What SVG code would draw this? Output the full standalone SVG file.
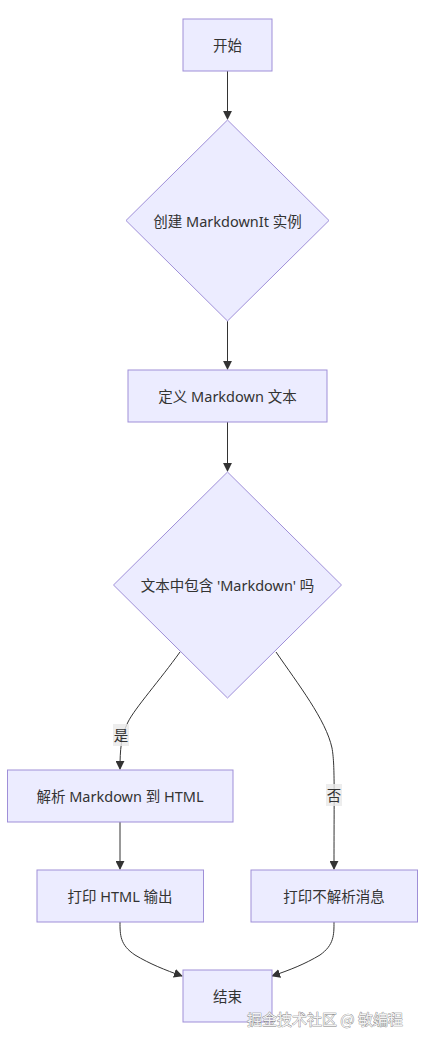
<svg xmlns="http://www.w3.org/2000/svg" width="425" height="1042" viewBox="0 0 425 1042">
<defs>
<marker id="arr" viewBox="0 0 10 10" refX="9" refY="5" markerWidth="9" markerHeight="9" markerUnits="userSpaceOnUse" orient="auto">
<path d="M0,0 L10,5 L0,10 z" fill="#333"/>
</marker>
<style>
.n{fill:#ECECFF;stroke:#9f8fd8;stroke-width:1}
.t{font-family:"Noto Sans","Noto Sans CJK SC",sans-serif;font-size:14.5px;fill:#333;text-anchor:middle;dominant-baseline:central}
.e{fill:none;stroke:#333;stroke-width:1}
.lb{fill:#e8e8e8;opacity:0.8}
.wm{font-family:"Noto Sans CJK SC",sans-serif;font-size:15px;fill:#f2f2f2;stroke:#7a7a7a;stroke-width:0.7;paint-order:stroke;text-anchor:start;dominant-baseline:central}
</style>
</defs>
<rect width="425" height="1042" fill="#fff"/>
<g id="connectors">
<path class="e" d="M227.5,71 L227.5,119" marker-end="url(#arr)"/>
<path class="e" d="M227.5,321 L227.5,369" marker-end="url(#arr)"/>
<path class="e" d="M227.5,422 L227.5,471" marker-end="url(#arr)"/>
<path class="e" d="M180,652 C160,680 135,708 128,722 C121,736 120,750 120,769" marker-end="url(#arr)"/>
<path class="e" d="M276,652 C298,684 326,720 332,748 C335,765 334,790 334,869" marker-end="url(#arr)"/>
<path class="e" d="M120,822 L120,869" marker-end="url(#arr)"/>
<path class="e" d="M120,922 C120,935 120,945 135,955 C150,964 165,970 182,976" marker-end="url(#arr)"/>
<path class="e" d="M334,922 C334,935 334,945 320,955 C305,964 290,970 272,976" marker-end="url(#arr)"/>
<rect class="lb" x="113" y="724" width="16" height="22"/>
<text class="t" x="121" y="735">是</text>
<rect class="lb" x="326" y="784" width="16" height="22"/>
<text class="t" x="334" y="795">否</text>
</g>
<g id="start">
<rect class="n" x="183" y="19" width="89" height="52"/>
<text class="t" x="227.5" y="45">开始</text>
</g>
<g id="create">
<polygon class="n" points="227.5,120 329,220.5 227.5,321 126,220.5"/>
<text class="t" x="227.5" y="220.5">创建 MarkdownIt 实例</text>
</g>
<g id="define">
<rect class="n" x="128" y="370" width="199" height="52"/>
<text class="t" x="227.5" y="396">定义 Markdown 文本</text>
</g>
<g id="check">
<polygon class="n" points="227.5,472 341.5,585 227.5,698 113.5,585"/>
<text class="t" x="227.5" y="585">文本中包含 'Markdown' 吗</text>
</g>
<g id="parse">
<rect class="n" x="7.5" y="770" width="225.5" height="52"/>
<text class="t" x="120" y="796">解析 Markdown 到 HTML</text>
</g>
<g id="printHtml">
<rect class="n" x="37" y="870" width="166.5" height="52"/>
<text class="t" x="120" y="896">打印 HTML 输出</text>
</g>
<g id="printNo">
<rect class="n" x="251" y="870" width="166.5" height="52"/>
<text class="t" x="334" y="896">打印不解析消息</text>
</g>
<g id="end">
<rect class="n" x="183" y="970" width="89" height="52"/>
<text class="t" x="227.5" y="996">结束</text>
</g>
<text class="wm" x="247" y="1018">掘金技术社区 @ 敏编程</text>
</svg>
